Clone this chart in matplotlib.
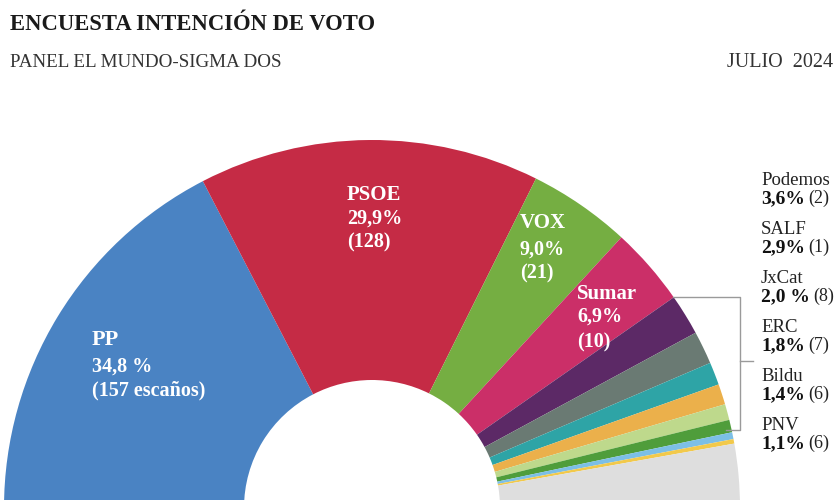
import matplotlib
matplotlib.use("Agg")
import matplotlib.pyplot as plt

# data (percent of vote, seats)
parties = ["PP", "PSOE", "VOX", "Sumar", "Podemos", "SALF", "JxCat", "ERC",
           "Bildu", "PNV", "BNG", "CC", "Otros"]
shares = [34.8, 29.9, 9.0, 6.9, 3.6, 2.9, 2.0, 1.8, 1.4, 1.1, 0.6, 0.4, 5.6]
seats = [157, 128, 21, 10, 2, 1, 8, 7, 6, 6, None, None, None]
pct_gap = [" ", "", "", "", "", "", " ", "", "", "", "", "", ""]
colors = ["#4a83c3", "#c52b45", "#75ae42", "#cb2f68", "#5c2966", "#6a7a73",
          "#2ea4a6", "#ebb04b", "#bed98c", "#4f9d3b", "#7cbfe6", "#f2c94b",
          "#dedede"]

plt.rcParams['font.family'] = ['Liberation Serif', 'DejaVu Serif']

W, H = 840, 500


def Y(py):
    # pixel row (from top) to data y
    return H - py


def pct(i):
    return f"{shares[i]:.1f}".replace(".", ",") + pct_gap[i] + "%"


fig = plt.figure(figsize=(8.4, 5.0), dpi=100)
ax = fig.add_axes([0, 0, 1, 1])

# half donut: add a hidden wedge equal to the total so the data fill 180 degrees
vals = shares + [sum(shares)]
cols = colors + ["none"]
ax.pie(vals, colors=cols, startangle=180, counterclock=False,
       center=(372, Y(508)), radius=368, frame=True,
       wedgeprops=dict(width=240, linewidth=0))

ax.set_xlim(0, W)
ax.set_ylim(0, H)
ax.set_aspect('equal')
ax.axis('off')

# title block
ax.text(10, Y(30), "ENCUESTA INTENCIÓN DE VOTO", fontsize=16.3,
        fontweight='bold', color='#1a1a1a', va='baseline')
ax.text(10, Y(67), "PANEL EL MUNDO-SIGMA DOS", fontsize=13.7,
        color='#333333', va='baseline')
ax.text(833, Y(67), "JULIO  2024", fontsize=14.5, color='#333333',
        va='baseline', ha='right')

# labels inside the big slices
inner = [(0, 92, [345, 372, 395]),
         (1, 347, [200, 224, 247]),
         (2, 520, [228, 255, 278]),
         (3, 577, [299, 322, 347])]
for i, x, ys in inner:
    ax.text(x, Y(ys[0]), parties[i], fontsize=16 if i == 0 else 15,
            fontweight='bold', color='white', va='baseline')
    ax.text(x, Y(ys[1]), pct(i), fontsize=14.5, fontweight='bold',
            color='white', va='baseline')
    seat_txt = f"({seats[i]} escaños)" if i == 0 else f"({seats[i]})"
    ax.text(x, Y(ys[2]), seat_txt, fontsize=14.5, fontweight='bold',
            color='white', va='baseline')

# side legend for the small parties
fig.canvas.draw()
renderer = fig.canvas.get_renderer()
inv = ax.transData.inverted()
for k, i in enumerate(range(4, 10)):
    yb = 186 + 49 * k
    ax.text(761, Y(yb - 1), parties[i], fontsize=13.5, color='#222222',
            va='baseline')
    t = ax.text(761, Y(yb + 17), pct(i), fontsize=14, fontweight='bold',
                color='#111111', va='baseline')
    bb = t.get_window_extent(renderer)
    x_end = inv.transform((bb.x1, bb.y0))[0]
    ax.text(x_end + 3, Y(yb + 17), f"({seats[i]})", fontsize=13,
            color='#222222', va='baseline')

# bracket joining Sumar label to the small-party list
ax.plot([673, 740, 740, 726], [Y(297), Y(297), Y(430), Y(430)],
        color='#9a9a9a', lw=1)
ax.plot([740, 753], [Y(361), Y(361)], color='#9a9a9a', lw=1)

fig.savefig("out.png", dpi=100)
